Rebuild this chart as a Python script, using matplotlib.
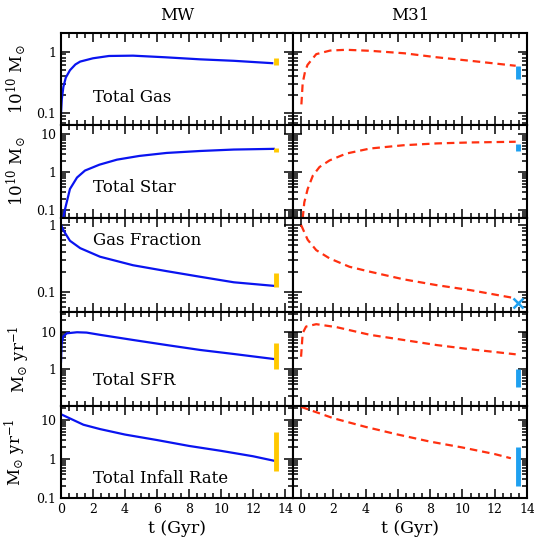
import numpy as np
import matplotlib
matplotlib.use("Agg")
import matplotlib.pyplot as plt
from matplotlib.ticker import LogLocator, FuncFormatter, MultipleLocator, NullFormatter

# --- model curves (t in Gyr) ---
t_mw_gas = [0, 0.05, 0.15, 0.3, 0.56, 0.9, 1.2, 2.0, 3.0, 4.5, 6.5, 8.7, 10.8, 13.2]
mw_gas = [0.1, 0.17, 0.27, 0.38, 0.50, 0.62, 0.69, 0.78, 0.85, 0.86, 0.81, 0.75, 0.71, 0.65]
t_m31_gas = [0.02, 0.1, 0.25, 0.4, 0.94, 1.8, 2.8, 4.3, 6.4, 8.4, 10.5, 13.3]
m31_gas = [0.14, 0.31, 0.48, 0.61, 0.91, 1.04, 1.07, 1.03, 0.94, 0.81, 0.71, 0.59]

t_mw_star = [0.12, 0.25, 0.56, 1.0, 1.5, 2.4, 3.5, 4.9, 6.6, 8.7, 10.8, 13.3]
mw_star = [0.055, 0.105, 0.36, 0.72, 1.1, 1.57, 2.13, 2.67, 3.2, 3.6, 3.93, 4.1]
t_m31_star = [0.1, 0.2, 0.41, 0.73, 1.14, 1.77, 2.8, 4.27, 6.35, 8.4, 10.5, 13.3]
m31_star = [0.06, 0.16, 0.36, 0.81, 1.36, 2.04, 3.08, 4.18, 5.1, 5.7, 6.04, 6.3]

t_mw_fgas = [0, 0.1, 0.25, 0.56, 1.2, 2.44, 4.5, 6.6, 8.7, 10.8, 13.3]
mw_fgas = [1.0, 0.88, 0.76, 0.58, 0.45, 0.335, 0.25, 0.204, 0.168, 0.139, 0.123]
t_m31_fgas = [0, 0.41, 0.94, 1.77, 3.0, 4.27, 6.35, 8.4, 10.5, 13.3]
m31_fgas = [1.0, 0.6, 0.42, 0.316, 0.237, 0.2, 0.154, 0.126, 0.106, 0.08]

t_mw_sfr = [0, 0.04, 0.14, 0.36, 1.0, 1.6, 2.44, 4.5, 6.6, 8.7, 10.8, 13.3]
mw_sfr = [1.6, 4.9, 7.4, 9.0, 9.6, 9.4, 8.2, 6.0, 4.4, 3.26, 2.55, 1.88]
t_m31_sfr = [0, 0.1, 0.31, 0.94, 2.2, 4.27, 6.35, 8.4, 10.5, 13.3]
m31_sfr = [2.16, 9.1, 13.6, 15.7, 13.1, 8.2, 6.0, 4.4, 3.4, 2.5]

t_mw_inf = [0, 1.4, 2.44, 4, 6, 8, 10, 12, 13.3]
mw_inf = [13.9, 7.5, 5.8, 4.2, 3.04, 2.15, 1.61, 1.17, 0.9]
t_m31_inf = [0, 2, 4, 6, 8, 10, 12, 13.0]
m31_inf = [21.5, 11, 6.6, 4.2, 2.77, 1.96, 1.33, 1.04]

# --- observed ranges at the present day ---
t_obs = 13.45
mw_obs = [(0.61, 0.78), (3.3, 4.4), (0.12, 0.19), (1.0, 5.0), (0.5, 5.0)]
m31_obs = [(0.36, 0.59), (3.6, 5.6), None, (0.35, 1.0), (0.2, 2.0)]
m31_fgas_obs = 0.068

names = ["Total Gas", "Total Star", "Gas Fraction", "Total SFR", "Total Infall Rate"]
ylabels = [r"10$^{10}$ M$_{\odot}$", r"10$^{10}$ M$_{\odot}$", "",
           r"M$_{\odot}$ yr$^{-1}$", r"M$_{\odot}$ yr$^{-1}$"]
ylims = [(0.065, 2.0), (0.062, 17.4), (0.05, 1.27), (0.107, 33), (0.1, 22.6)]
name_y = [0.30, 0.33, 0.76, 0.27, 0.21]

mw_curves = [(t_mw_gas, mw_gas), (t_mw_star, mw_star), (t_mw_fgas, mw_fgas),
             (t_mw_sfr, mw_sfr), (t_mw_inf, mw_inf)]
m31_curves = [(t_m31_gas, m31_gas), (t_m31_star, m31_star), (t_m31_fgas, m31_fgas),
              (t_m31_sfr, m31_sfr), (t_m31_inf, m31_inf)]

theme = {
    "font.family": "DejaVu Serif",
    "mathtext.fontset": "dejavuserif",
    "xtick.labelsize": 9,
    "ytick.labelsize": 9,
}
matplotlib.rcParams.update(theme)

W, H = 534, 540
fig = plt.figure(figsize=(W / 100, H / 100), dpi=100)

row_top = [33, 125, 218, 312, 406]
row_bot = [125, 218, 312, 406, 498]
col_x = [(61, 293), (293, 527)]
xlims = [(0, 14.5), (-0.5, 14.0)]

blue = "#0a14f0"
red = "#ff3010"
yellow = "#ffc800"
lblue = "#1ea0f0"

fmt = FuncFormatter(lambda v, p: "%g" % v)

for r in range(5):
    for c in range(2):
        x0, x1 = col_x[c]
        ax = fig.add_axes([x0 / W, 1 - row_bot[r] / H, (x1 - x0) / W, (row_bot[r] - row_top[r]) / H])
        ax.set_yscale("log")
        ax.set_xlim(*xlims[c])
        ax.set_ylim(*ylims[r])

        if c == 0:
            tt, vv = mw_curves[r]
            ax.plot(tt, vv, color=blue, lw=1.6, solid_joinstyle="round")
            lo, hi = mw_obs[r]
            ax.vlines(t_obs, lo, hi, color=yellow, lw=3.5)
        else:
            tt, vv = m31_curves[r]
            ax.plot(tt, vv, color=red, lw=1.6, dashes=(3.4, 2.2))
            if m31_obs[r] is not None:
                lo, hi = m31_obs[r]
                ax.vlines(t_obs, lo, hi, color=lblue, lw=3.5)
            else:
                ax.plot([t_obs], [m31_fgas_obs], "x", color=lblue, ms=7, mew=1.8, clip_on=False)

        for s in ax.spines.values():
            s.set_linewidth(1.5)
        ax.xaxis.set_major_locator(MultipleLocator(2))
        ax.xaxis.set_minor_locator(MultipleLocator(0.5))
        ax.yaxis.set_major_locator(LogLocator(base=10))
        ax.yaxis.set_minor_locator(LogLocator(base=10, subs=np.arange(2, 10)))
        ax.yaxis.set_minor_formatter(NullFormatter())
        ax.tick_params(which="both", direction="in", top=True, right=True, width=1.1)
        ax.tick_params(which="major", length=6.5)
        ax.tick_params(which="minor", length=3.5)

        if c == 0:
            ax.yaxis.set_major_formatter(fmt)
            ax.set_ylabel(ylabels[r], fontsize=12, labelpad=6)
            ax.text(0.14, name_y[r], names[r], transform=ax.transAxes, fontsize=12,
                    ha="left", va="center")
        else:
            ax.set_yticklabels([])

        if r == 4:
            ax.set_xticks([0, 2, 4, 6, 8, 10, 12, 14])
            ax.xaxis.set_major_formatter(fmt)
            ax.set_xlabel("t (Gyr)", fontsize=12.5, labelpad=3)
        else:
            ax.set_xticklabels([])

        if r == 0:
            ax.set_title(["MW", "M31"][c], fontsize=12, pad=9)

plt.savefig("out.png", dpi=100)
plt.close()
